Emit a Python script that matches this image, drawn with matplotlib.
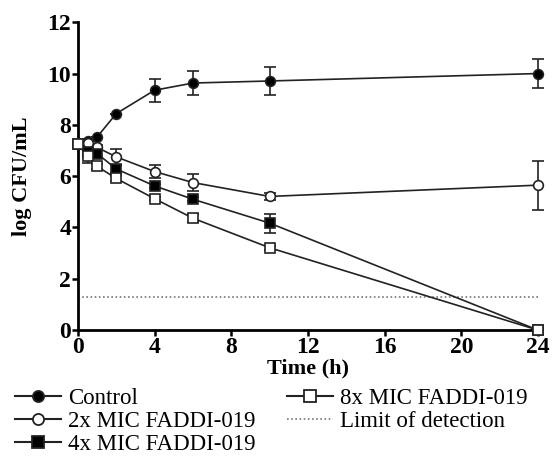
import matplotlib
matplotlib.use("Agg")
import matplotlib.pyplot as plt
from matplotlib.lines import Line2D

plt.rcParams["font.family"] = ["Liberation Serif", "DejaVu Serif"]

# time points (h)
time = [0, 0.5, 1, 2, 4, 6, 10, 24]

control = [7.25, 7.37, 7.53, 8.44, 9.35, 9.63, 9.71, 10.0]
control_err = [0, 0, 0, 0, 0.45, 0.47, 0.54, 0.56]

mic2 = [7.25, 7.3, 7.12, 6.75, 6.18, 5.75, 5.21, 5.65]
mic2_err = [0, 0.1, 0.1, 0.3, 0.25, 0.32, 0.12, 0.95]

mic4 = [7.25, 6.95, 6.88, 6.28, 5.62, 5.1, 4.17, 0.0]
mic4_err = [0, 0.2, 0.15, 0.15, 0.08, 0.08, 0.37, 0]

mic8 = [7.25, 6.77, 6.38, 5.91, 5.12, 4.36, 3.21, 0.0]
mic8_err = [0, 0.25, 0.1, 0.1, 0.05, 0.15, 0.08, 0]

lod = 1.3

labels = ["Control", "2x MIC FADDI-019", "4x MIC FADDI-019",
          "8x MIC FADDI-019", "Limit of detection"]

fig = plt.figure(figsize=(5.53, 4.63), dpi=100)
ax = fig.add_axes([0.141, 0.287, 0.832, 0.665])

LC = "#222222"
style = dict(color=LC, lw=1.2, ms=7, capsize=4.5, elinewidth=1.2,
             capthick=1.2, markeredgewidth=1.2, clip_on=False, zorder=3)
series = [(control, control_err, "o", "black"),
          (mic2, mic2_err, "o", "white"),
          (mic4, mic4_err, "s", "black"),
          (mic8, mic8_err, "s", "white")]
handles = []
for (vals, err, mk, fc), lab in zip(series, labels):
    ax.errorbar(time, vals, yerr=err, marker=mk, mfc=fc, **style)
    handles.append(Line2D([], [], color=LC, lw=1.5, marker=mk, mfc=fc,
                          mec=LC, ms=8, mew=1.3, label=lab))
ax.axhline(lod, color="#777777", lw=1.2, ls=(0, (1, 1.5)))
handles.append(Line2D([], [], color="#777777", lw=1.2, ls=(0, (1, 1.5)),
                      label=labels[4]))

ax.set_xlim(0, 24)
ax.set_ylim(0, 12)
ax.set_xticks(range(0, 25, 4))
ax.set_yticks(range(0, 13, 2))
for s in ["top", "right"]:
    ax.spines[s].set_visible(False)
for s in ["left", "bottom"]:
    ax.spines[s].set_linewidth(2)
ax.tick_params(width=1.8, length=4, labelsize=17, pad=1)
for t in ax.get_xticklabels() + ax.get_yticklabels():
    t.set_fontweight("bold")

ax.set_xlabel("Time (h)", fontsize=16, fontweight="bold", labelpad=0)
ax.set_ylabel("log CFU/mL", fontsize=16, fontweight="bold", labelpad=11)

fig.legend(handles=handles, loc="upper left", bbox_to_anchor=(0.027, 0.163),
           ncol=2, frameon=False, fontsize=16.5, handlelength=2.0,
           handletextpad=0.3, columnspacing=1.4, labelspacing=0.1,
           borderaxespad=0.0, borderpad=0.0)

fig.savefig("out.png", dpi=100)
